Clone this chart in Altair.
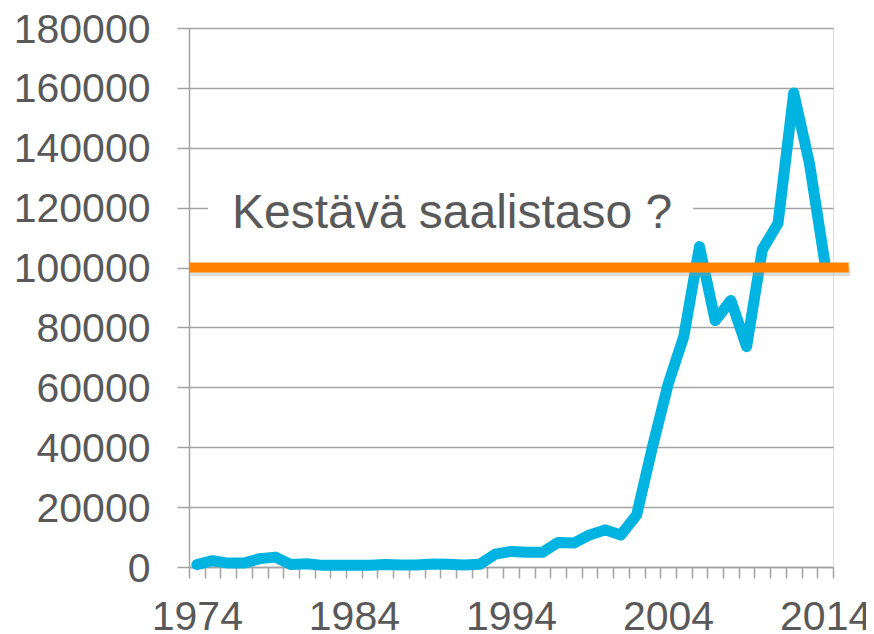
import altair as alt
import pandas as pd

years = list(range(1974, 2015))
catch = [800, 2100, 1300, 1300, 2800, 3300, 800, 1100, 550, 550,
         550, 550, 800, 700, 700, 1000, 900, 700, 900, 4300,
         5200, 4900, 4900, 8200, 8000, 10700, 12400, 10700, 17400, 40000,
         61000, 77000, 107000, 82300, 89000, 73600, 106000, 114800, 158300, 134800,
         101000]

threshold_value = 100000
threshold_start = 1973.5
threshold_end = 2015.5
label_text = "Kestävä saalistaso ?"
label_x = 1976.24
label_y = 113200
label_box = {"x": 1974.71, "x2": 2005.59, "y": 112000, "y2": 126000}

y_ticks = list(range(0, 180001, 20000))
x_ticks = [1973.5 + i for i in range(42)]

FONT = "Liberation Sans"
TXT = "#595959"
GRID = "#a3a3a3"

df = pd.DataFrame({"year": years, "catch": catch})
thr = pd.DataFrame({"x": [threshold_start], "x2": [threshold_end], "y": [threshold_value]})
shadow = pd.DataFrame({"x": [threshold_start + 0.1], "x2": [threshold_end + 0.1], "y": [threshold_value - 1300]})
box = pd.DataFrame([label_box])
lab = pd.DataFrame({"x": [label_x], "y": [label_y], "t": [label_text]})

xscale = alt.Scale(domain=[1973.5, 2014.5], nice=False, zero=False)
yscale = alt.Scale(domain=[0, 180000], nice=False)

xaxis = alt.Axis(values=x_ticks, tickCount=100, title=None, grid=False,
                 labelExpr="(datum.value - 1973.5) % 10 == 0 ? toString(datum.value + 0.5) : ''",
                 labelOffset=7.85, labelFlush=False, labelOverlap=False, labelBound=False,
                 labelFont=FONT, labelFontSize=41, labelColor=TXT, labelPadding=19,
                 tickSize=11, tickColor=GRID, tickWidth=1.5,
                 domainColor=GRID, domainWidth=1.5)
yaxis = alt.Axis(values=y_ticks, title=None, format="d", grid=True,
                 gridColor=GRID, gridWidth=1.6,
                 labelFont=FONT, labelFontSize=41, labelColor=TXT, labelPadding=27,
                 labelOffset=2,
                 tickSize=12, tickColor=GRID, tickWidth=1.5,
                 domainColor=GRID, domainWidth=1.5)

line = alt.Chart(df).mark_line(color="#00B3E0", strokeWidth=11,
                               strokeJoin="round", strokeCap="round").encode(
    x=alt.X("year:Q", scale=xscale, axis=xaxis),
    y=alt.Y("catch:Q", scale=yscale, axis=yaxis),
)

rect = alt.Chart(box).mark_rect(color="white").encode(
    x=alt.X("x:Q", scale=xscale), x2="x2:Q",
    y=alt.Y("y:Q", scale=yscale), y2="y2:Q",
)

shadow_rule = alt.Chart(shadow).mark_rule(color="#9a9a9a", opacity=0.35, strokeWidth=9,
                                          strokeCap="butt").encode(
    x=alt.X("x:Q", scale=xscale), x2="x2:Q",
    y=alt.Y("y:Q", scale=yscale),
)

rule = alt.Chart(thr).mark_rule(color="#FF8300", strokeWidth=10, strokeCap="butt").encode(
    x=alt.X("x:Q", scale=xscale), x2="x2:Q",
    y=alt.Y("y:Q", scale=yscale),
)

text = alt.Chart(lab).mark_text(font=FONT, fontSize=48, color=TXT,
                                align="left", baseline="alphabetic").encode(
    x=alt.X("x:Q", scale=xscale),
    y=alt.Y("y:Q", scale=yscale),
    text="t:N",
)

chart = alt.layer(rect, line, shadow_rule, rule, text).properties(
    width=644, height=539,
    autosize=alt.AutoSizeParams(type="none"),
    padding={"left": 181, "top": 20, "right": 33, "bottom": 68},
).configure_view(stroke=None).configure(background="white")

chart.save("out.html", embed_options={"renderer": "svg", "actions": False})
